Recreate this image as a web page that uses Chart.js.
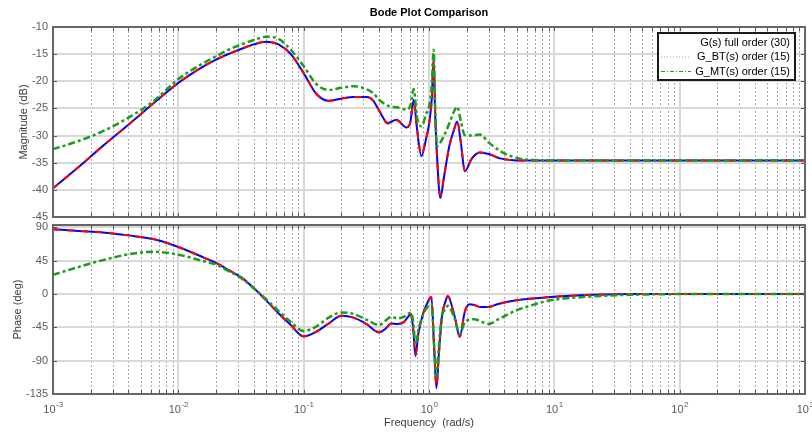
<!DOCTYPE html>
<html>
<head>
<meta charset="utf-8">
<script src="https://cdn.jsdelivr.net/npm/chart.js@4.4.1/dist/chart.umd.min.js"></script>
<style>
  html, body { margin: 0; padding: 0; background: #fff; }
  #wrap { position: relative; width: 812px; height: 432px; overflow: hidden; background: #fff; }
  #title { position: absolute; left: 0; top: 6px; width: 858px; text-align: center;
           font: bold 11px "Liberation Sans", Arial, sans-serif; color: #000; line-height: 13px; }
  #topBox { position: absolute; left: 0; top: 0; width: 812px; height: 220px; }
  #botBox { position: absolute; left: 0; top: 220px; width: 812px; height: 212px; }
</style>
</head>
<body>
<div id="wrap">
  <div id="topBox"><canvas id="magChart" width="812" height="220"></canvas></div>
  <div id="botBox"><canvas id="phaseChart" width="812" height="212"></canvas></div>
  <div id="title">Bode Plot Comparison</div>
</div>
<script>
// ---------------- data ----------------
const seriesNames = ['G(s) full order (30)', 'G_BT(s) order (15)', 'G_MT(s) order (15)'];

const magFreq = [0.001, 0.0016, 0.0025, 0.004, 0.0063, 0.01, 0.016, 0.02, 0.025, 0.032,
  0.04, 0.05, 0.063, 0.079, 0.1, 0.126, 0.158, 0.2, 0.25, 0.32,
  0.36, 0.4, 0.47, 0.55, 0.66, 0.71, 0.755, 0.8, 0.87, 0.95,
  1.0, 1.05, 1.09, 1.12, 1.16, 1.23, 1.32, 1.45, 1.58, 1.68,
  1.8, 1.93, 2.2, 2.54, 3.0, 3.67, 4.5, 5.5, 7, 10, 100, 1000];

const magFull = [-39.7, -35.8, -31.9, -28.0, -24.1, -20.3, -17.2, -16.0, -15.0, -14.0,
  -13.2, -12.7, -13.2, -15.0, -18.5, -22.3, -23.6, -23.2, -22.9, -22.9,
  -23.6, -25.4, -27.7, -27.1, -28.5, -27.5, -23.4, -28.5, -33.8, -30.5,
  -28.0, -23.5, -16.3, -26.0, -34.0, -41.5, -37.5, -32.0, -29.0, -27.4,
  -31.5, -36.6, -34.2, -33.1, -33.4, -34.2, -34.5, -34.6, -34.6, -34.6, -34.6, -34.6];

const magBT = [-39.7, -35.8, -31.9, -28.0, -24.1, -20.3, -17.2, -16.0, -15.0, -14.0,
  -13.2, -12.7, -13.2, -15.0, -18.5, -22.3, -23.6, -23.2, -22.9, -22.9,
  -23.6, -25.4, -27.8, -27.2, -28.5, -27.6, -23.8, -28.6, -33.5, -30.4,
  -28.0, -23.6, -16.0, -26.0, -34.0, -41.0, -37.4, -32.0, -29.0, -27.3,
  -31.5, -36.5, -34.2, -33.1, -33.4, -34.2, -34.5, -34.6, -34.6, -34.6, -34.6, -34.6];

const magMT = [-32.5, -31.0, -29.2, -26.7, -23.7, -19.6, -16.6, -15.4, -14.2, -13.2,
  -12.4, -11.8, -12.2, -14.2, -17.2, -20.5, -21.6, -21.2, -20.9, -21.5,
  -22.2, -23.4, -24.5, -24.8, -25.2, -24.5, -21.4, -26.5, -28.3, -26.0,
  -24.7, -21.0, -14.2, -25.0, -32.0, -31.3, -30.0, -27.8, -25.6, -24.7,
  -27.5, -29.9, -30.0, -29.8, -31.3, -32.8, -33.8, -34.3, -34.5, -34.6, -34.6, -34.6];

const phaseFreq = [0.001, 0.0016, 0.0025, 0.004, 0.0063, 0.01, 0.016, 0.02, 0.025, 0.032,
  0.04, 0.05, 0.063, 0.079, 0.1, 0.126, 0.158, 0.2, 0.25, 0.32,
  0.4, 0.45, 0.5, 0.56, 0.63, 0.68, 0.72, 0.75, 0.78, 0.82,
  0.895, 0.97, 1.045, 1.1, 1.146, 1.2, 1.27, 1.36, 1.41, 1.6,
  1.76, 1.93, 2.11, 2.3, 2.54, 3.0, 3.5, 4.0, 5.0, 6.3,
  8, 10, 16, 25, 40, 100, 1000];

const phaseFull = [87.4, 85.0, 83.0, 79.0, 74.0, 63.3, 49.0, 42.0, 32.5, 22.0,
  7.9, -8.4, -26.0, -42.0, -57.5, -51.0, -40.0, -29.5, -32.0, -41.0,
  -52.0, -47.0, -40.0, -40.5, -38.0, -31.0, -27.0, -50.0, -84.0, -55.0,
  -27.0, -12.0, -4.3, -75.0, -127.0, -80.0, -30.0, -9.0, -2.7, -30.0,
  -58.0, -24.0, -14.0, -15.0, -17.5, -17.5, -14.0, -11.5, -8.5, -6.5,
  -5.0, -3.7, -1.8, -0.6, -0.1, 0.0, 0.0];

const phaseBT = [87.4, 85.0, 83.0, 79.0, 74.0, 63.3, 49.0, 42.0, 32.5, 22.0,
  7.9, -8.4, -26.0, -42.0, -57.0, -51.0, -40.0, -29.5, -32.0, -41.0,
  -51.5, -47.0, -40.0, -40.5, -38.0, -31.0, -27.5, -49.0, -82.0, -55.0,
  -27.0, -12.0, -4.5, -74.0, -124.0, -80.0, -30.0, -9.0, -2.7, -30.0,
  -57.5, -24.0, -14.0, -15.0, -17.5, -17.5, -14.0, -11.5, -8.5, -6.5,
  -5.0, -3.7, -1.8, -0.6, -0.1, 0.0, 0.0];

const phaseMT = [25.7, 36.4, 45.6, 53.5, 57.0, 53.0, 44.0, 39.5, 31.0, 21.0,
  7.5, -7.0, -23.0, -38.0, -50.0, -44.0, -32.0, -25.0, -27.0, -35.0,
  -42.0, -36.0, -31.0, -33.0, -31.0, -27.0, -25.0, -40.0, -68.0, -50.0,
  -28.0, -18.0, -13.4, -70.0, -111.0, -70.0, -28.0, -21.0, -16.0, -33.0,
  -54.0, -38.0, -35.0, -34.0, -36.5, -40.5, -35.0, -30.0, -22.0, -16.5,
  -11.0, -7.8, -4.5, -2.5, -1.2, -0.2, 0.0];

const magTicks = [-10, -15, -20, -25, -30, -35, -40, -45];
const phaseTicks = [90, 45, 0, -45, -90, -135];
const freqTicks = [0.001, 0.01, 0.1, 1, 10, 100, 1000];
const freqTickBase = '10';
const freqTickExponents = ['-3', '-2', '-1', '0', '1', '2', '3'];

// ---------------- styling ----------------
const FONT = '"Liberation Sans", Arial, Helvetica, sans-serif';
Chart.defaults.font.family = FONT;
Chart.defaults.font.size = 11;

const COL_FULL = '#0000ff';
const COL_BT = '#ff0000';
const COL_MT = '#1c9c1c';
const TICK_COL = '#5a5a5a';
const TITLE_COL = '#3a3a3a';

function pts(fr, vals) { return fr.map((f, i) => ({ x: f, y: vals[i] })); }

function makeDatasets(fr, full, bt, mt) {
  return [
    { label: seriesNames[0], data: pts(fr, full), borderColor: COL_FULL, borderWidth: 2,
      pointRadius: 0, cubicInterpolationMode: 'monotone', order: 2 },
    { label: seriesNames[1], data: pts(fr, bt), borderColor: COL_BT, borderWidth: 2,
      borderDash: [7, 7], pointRadius: 0, cubicInterpolationMode: 'monotone', order: 1 },
    { label: seriesNames[2], data: pts(fr, mt), borderColor: COL_MT, borderWidth: 2.5,
      borderDash: [7, 3, 3, 3], pointRadius: 0, cubicInterpolationMode: 'monotone', order: 0 }
  ];
}

// minor grid positions (2..9 x 10^d)
const minorFreqs = [];
for (let d = -3; d < 3; d++) for (let m = 2; m <= 9; m++) minorFreqs.push(m * Math.pow(10, d));

function hline(ctx, x1, y1, x2, y2) { ctx.beginPath(); ctx.moveTo(x1, y1); ctx.lineTo(x2, y2); ctx.stroke(); }

const axesPlugin = {
  id: 'matlabAxes',
  beforeDatasetsDraw(chart) {
    const { ctx, chartArea: ca, scales: { x, y } } = chart;
    ctx.save();
    ctx.beginPath(); ctx.rect(ca.left, ca.top, ca.right - ca.left, ca.bottom - ca.top); ctx.clip();
    ctx.strokeStyle = '#a8a8a8'; ctx.lineWidth = 1; ctx.setLineDash([2, 2]);
    for (const v of minorFreqs) {
      const px = Math.round(x.getPixelForValue(v)) + 0.5;
      hline(ctx, px, ca.top, px, ca.bottom);
    }
    ctx.setLineDash([]);
    ctx.strokeStyle = '#d8d8d8'; ctx.lineWidth = 2;
    for (const v of freqTicks) {
      const px = Math.round(x.getPixelForValue(v));
      hline(ctx, px, ca.top, px, ca.bottom);
    }
    for (const t of y.ticks) {
      const py = Math.round(y.getPixelForValue(t.value));
      hline(ctx, ca.left, py, ca.right, py);
    }
    ctx.restore();
  },
  afterDatasetsDraw(chart) {
    const { ctx, chartArea: ca, scales: { x, y } } = chart;
    ctx.save();
    ctx.strokeStyle = '#555'; ctx.lineWidth = 1;
    const tl = 4;
    for (const v of minorFreqs.concat(freqTicks)) {
      const px = Math.round(x.getPixelForValue(v)) + 0.5;
      hline(ctx, px, ca.top, px, ca.top + tl);
      hline(ctx, px, ca.bottom, px, ca.bottom - tl);
    }
    for (const t of y.ticks) {
      const py = Math.round(y.getPixelForValue(t.value)) + 0.5;
      hline(ctx, ca.left, py, ca.left + tl, py);
      hline(ctx, ca.right, py, ca.right - tl, py);
    }
    ctx.strokeStyle = '#666'; ctx.lineWidth = 2;
    ctx.strokeRect(ca.left, ca.top, ca.right - ca.left, ca.bottom - ca.top);
    ctx.restore();
  }
};

// decade tick labels "10" with a raised exponent, placed through the x scale
const powerLabelPlugin = {
  id: 'powerLabels',
  afterDraw(chart) {
    const { ctx, chartArea: ca, scales: { x } } = chart;
    ctx.save();
    ctx.fillStyle = TICK_COL; ctx.textBaseline = 'middle'; ctx.textAlign = 'left';
    freqTicks.forEach((v, i) => {
      const px = x.getPixelForValue(v);
      ctx.font = '11px ' + FONT;
      const wb = ctx.measureText(freqTickBase).width;
      ctx.font = '8px ' + FONT;
      const we = ctx.measureText(freqTickExponents[i]).width;
      const x0 = px - (wb + we) / 2;
      ctx.font = '11px ' + FONT;
      ctx.fillText(freqTickBase, x0, ca.bottom + 16);
      ctx.font = '8px ' + FONT;
      ctx.fillText(freqTickExponents[i], x0 + wb + 0.5, ca.bottom + 11);
    });
    ctx.restore();
  }
};

const legendPlugin = {
  id: 'matlabLegend',
  afterDraw(chart) {
    const ctx = chart.ctx;
    const ca = chart.chartArea;
    const bx = ca.right - 147, by = ca.top + 6, bw = 137, bh = 47;
    ctx.save();
    ctx.fillStyle = '#fff'; ctx.fillRect(bx, by, bw, bh);
    ctx.lineWidth = 2; ctx.strokeStyle = '#1a1a1a'; ctx.strokeRect(bx, by, bw, bh);
    ctx.font = '11px ' + FONT; ctx.fillStyle = '#000';
    ctx.textAlign = 'right'; ctx.textBaseline = 'middle';
    const rowY = [by + 9.5, by + 24, by + 38.5];
    seriesNames.forEach((n, i) => ctx.fillText(n, bx + bw - 5, rowY[i]));
    ctx.lineWidth = 1;
    ctx.strokeStyle = '#f08a8a'; ctx.setLineDash([1, 2]);
    hline(ctx, bx + 3, rowY[1], bx + 33, rowY[1]);
    ctx.strokeStyle = COL_MT; ctx.setLineDash([4, 2, 1, 2]);
    hline(ctx, bx + 3, rowY[2], bx + 33, rowY[2]);
    ctx.restore();
  }
};

const xScaleBase = { type: 'logarithmic', min: 0.001, max: 1000 };
const fixY = s => { s.width = 53; s.paddingTop = 0; s.paddingBottom = 0; };

new Chart(document.getElementById('magChart'), {
  type: 'line',
  data: { datasets: makeDatasets(magFreq, magFull, magBT, magMT) },
  plugins: [axesPlugin, legendPlugin],
  options: {
    responsive: false, animation: false, devicePixelRatio: 1,
    layout: { padding: { left: 0, top: 27, right: 7, bottom: 3 } },
    plugins: { legend: { display: false }, tooltip: { enabled: false } },
    scales: {
      x: Object.assign({}, xScaleBase, { display: false }),
      y: {
        min: -45, max: -10,
        afterBuildTicks: s => { s.ticks = magTicks.map(v => ({ value: v })); },
        afterFit: fixY,
        grid: { display: false, drawTicks: false },
        border: { display: false },
        ticks: { color: TICK_COL, padding: 5, font: { size: 11 } },
        title: { display: true, text: 'Magnitude (dB)', color: TITLE_COL, font: { size: 11 },
                 padding: { top: 17, bottom: 0 } }
      }
    }
  }
});

new Chart(document.getElementById('phaseChart'), {
  type: 'line',
  data: { datasets: makeDatasets(phaseFreq, phaseFull, phaseBT, phaseMT) },
  plugins: [axesPlugin, powerLabelPlugin],
  options: {
    responsive: false, animation: false, devicePixelRatio: 1,
    layout: { padding: { left: 0, top: 5, right: 7, bottom: 0 } },
    plugins: { legend: { display: false }, tooltip: { enabled: false } },
    scales: {
      x: Object.assign({}, xScaleBase, {
        afterBuildTicks: s => { s.ticks = freqTicks.map(v => ({ value: v })); },
        afterFit: s => { s.height = 38; s.paddingLeft = 0; s.paddingRight = 0; },
        grid: { display: false, drawTicks: false },
        border: { display: false },
        ticks: { display: false },
        title: { display: true, text: 'Frequency  (rad/s)', color: TITLE_COL, font: { size: 11 },
                 padding: { top: 0, bottom: 2 } }
      }),
      y: {
        min: -135, max: 93,
        afterBuildTicks: s => { s.ticks = phaseTicks.map(v => ({ value: v })); },
        afterFit: fixY,
        grid: { display: false, drawTicks: false },
        border: { display: false },
        ticks: { color: TICK_COL, padding: 5, font: { size: 11 } },
        title: { display: true, text: 'Phase (deg)', color: TITLE_COL, font: { size: 11 },
                 padding: { top: 11, bottom: 0 } }
      }
    }
  }
});
</script>
</body>
</html>
